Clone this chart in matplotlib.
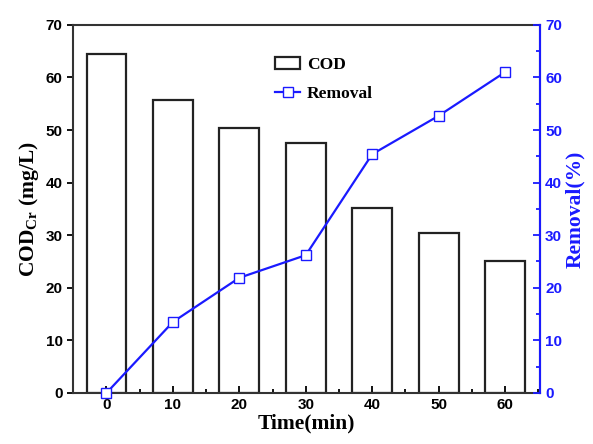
import matplotlib
matplotlib.use("Agg")
import matplotlib.pyplot as plt
from matplotlib.font_manager import FontProperties
from matplotlib.ticker import MultipleLocator

# time points (min)
time_min = [0, 10, 20, 30, 40, 50, 60]
# COD_Cr concentration (mg/L)
cod = [64.5, 55.8, 50.4, 47.6, 35.2, 30.4, 25.1]
# COD removal (%)
removal = [0.0, 13.5, 21.9, 26.2, 45.4, 52.7, 61.0]

plt.rcParams["mathtext.fontset"] = "custom"
plt.rcParams["mathtext.rm"] = "Liberation Serif:bold"
plt.rcParams["mathtext.bf"] = "Liberation Serif:bold"

BLUE = "#1a1aff"
tick_fp = FontProperties(family="Liberation Sans", weight="bold", size=11)
label_font = {"family": "Liberation Serif", "weight": "bold", "size": 15.5}

fig = plt.figure(figsize=(5.93, 4.44), dpi=100)
ax = fig.add_axes([0.123, 0.115, 0.788, 0.829])

bars = ax.bar(time_min, cod, width=6, facecolor="white", edgecolor="#222222",
              linewidth=1.6, label="COD")
ax.set_xlim(-5.05, 65.3)
ax.set_ylim(0, 70)
ax.xaxis.set_major_locator(MultipleLocator(10))
ax.xaxis.set_minor_locator(MultipleLocator(5))
ax.yaxis.set_major_locator(MultipleLocator(10))
ax.tick_params(axis="x", which="both", direction="in", width=1.3)
ax.tick_params(axis="x", which="major", length=5)
ax.tick_params(axis="x", which="minor", length=3)
ax.tick_params(axis="y", direction="out", length=4, width=1.3)
for lab in ax.get_xticklabels() + ax.get_yticklabels():
    lab.set_fontproperties(tick_fp)
for sp in ax.spines.values():
    sp.set_linewidth(1.5)
    sp.set_color("#333333")

ax.set_xlabel("Time(min)", fontdict=label_font, labelpad=1)
ax.set_ylabel(r"COD$_{\mathrm{Cr}}$ (mg/L)", fontdict=label_font, labelpad=3)

ax2 = ax.twinx()
line, = ax2.plot(time_min, removal, color=BLUE, linewidth=1.6, marker="s",
                 markersize=7.5, markerfacecolor="white", markeredgecolor=BLUE,
                 markeredgewidth=1.0, label="Removal", clip_on=False)
ax2.set_ylim(0, 70)
ax2.yaxis.set_major_locator(MultipleLocator(10))
ax2.yaxis.set_minor_locator(MultipleLocator(5))
ax2.tick_params(axis="y", which="both", direction="in", colors=BLUE, width=1.3)
ax2.tick_params(axis="y", which="major", length=5)
ax2.tick_params(axis="y", which="minor", length=3)
for lab in ax2.get_yticklabels():
    lab.set_fontproperties(tick_fp)
ax2.spines["right"].set_color(BLUE)
ax2.spines["right"].set_linewidth(1.5)
ax2.spines["left"].set_visible(False)
ax2.spines["top"].set_visible(False)
ax2.spines["bottom"].set_visible(False)
ax2.set_ylabel("Removal(%)", fontdict=label_font, color=BLUE, labelpad=2)

ax2.legend([bars, line], ["COD", "Removal"], loc="upper left",
           bbox_to_anchor=(0.40, 0.955), frameon=False,
           prop={"family": "Liberation Serif", "weight": "bold", "size": 12.5},
           handlelength=1.4, handletextpad=0.4, labelspacing=0.75)

fig.savefig("out.png", dpi=100)
